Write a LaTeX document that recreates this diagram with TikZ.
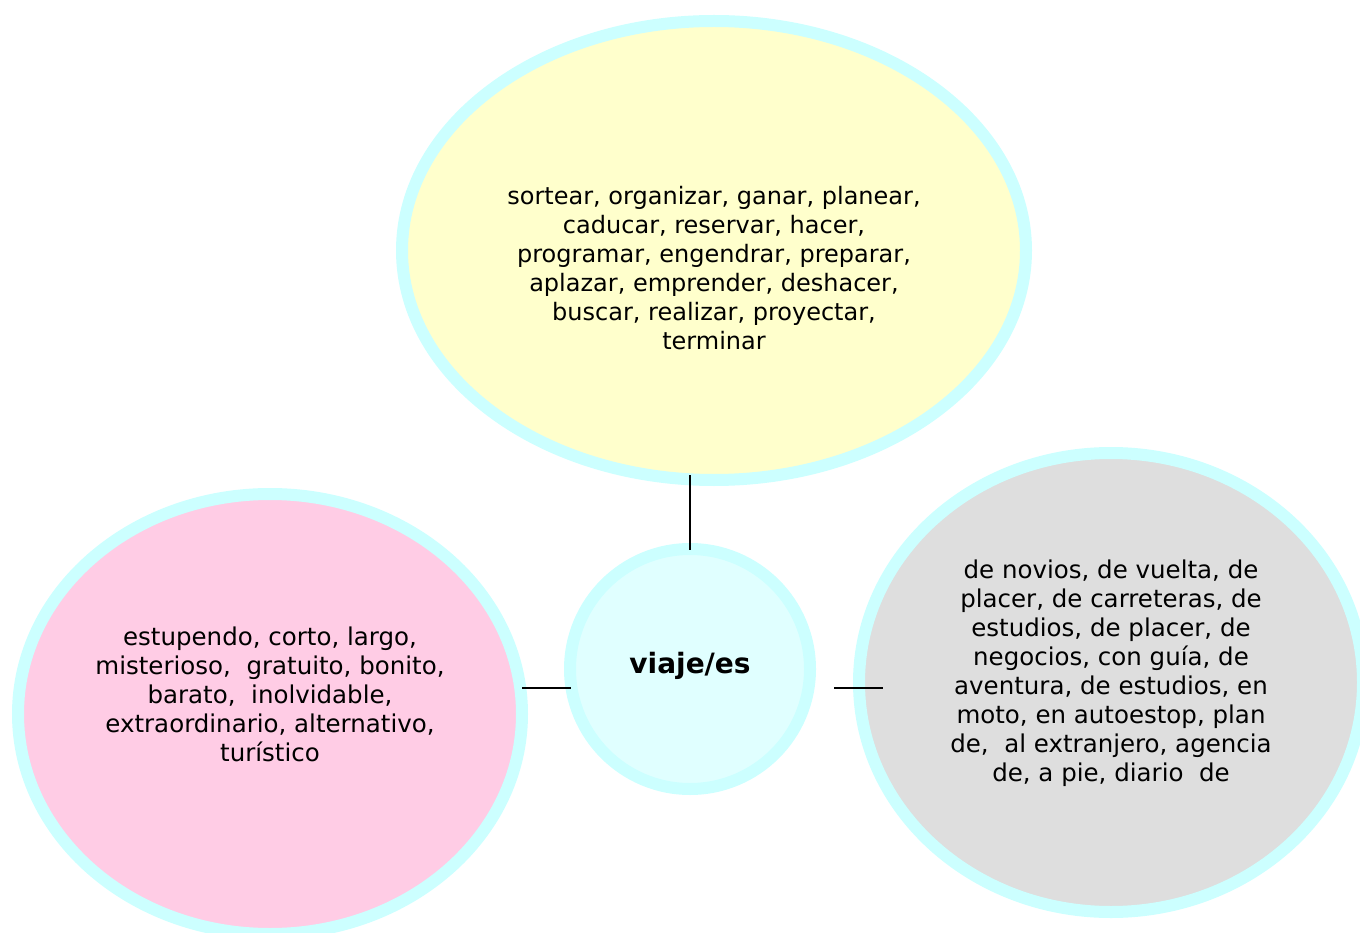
\documentclass[tikz,border=0pt]{standalone}
\usepackage{fontspec}
\setmainfont{DejaVu Sans}
\usetikzlibrary{shapes.geometric,calc}
\definecolor{ring}{HTML}{CCFFFF}
\definecolor{topfill}{HTML}{FFFFCC}
\definecolor{pinkfill}{HTML}{FFCCE5}
\definecolor{grayfill}{HTML}{DEDEDE}
\definecolor{hubfill}{HTML}{E0FFFF}
\begin{document}
\begin{tikzpicture}[x=1pt,y=-1pt,
  bubble/.style={ellipse, draw=ring, line width=12pt, inner sep=0pt, outer sep=0pt},
  words/.style={align=center, inner sep=0pt, anchor=north, text=black, font=\fontsize{24.5}{29}\selectfont},
  link/.style={line width=2pt, draw=black}]
\useasboundingbox (0,0) rectangle (1360,933);
\fill[white] (0,0) rectangle (1360,933);

\node[bubble, fill=topfill, minimum width=624pt, minimum height=459pt] (top) at (714,250.5) {};
\node[bubble, fill=pinkfill, minimum width=504pt, minimum height=440pt] (left) at (270,714) {};
\node[bubble, fill=grayfill, minimum width=504pt, minimum height=459pt] (right) at (1111,682.5) {};
\node[bubble, fill=hubfill, minimum width=240pt, minimum height=240pt] (hub) at (690,669) {};

\node[words, font=\fontsize{24}{29}\selectfont] (toptext) at (714,184) {\rule{0pt}{20pt}sortear, organizar, ganar, planear,\\
caducar, reservar, hacer,\\
programar, engendrar, preparar,\\
aplazar, emprender, deshacer,\\
buscar, realizar, proyectar,\\
terminar};

\node[words] (lefttext) at (270,625) {\rule{0pt}{20pt}estupendo, corto, largo,\\
misterioso,~ gratuito, bonito,\\
barato,~ inolvidable,\\
extraordinario, alternativo,\\
turístico};

\node[words] (righttext) at (1111,558) {\rule{0pt}{20pt}de novios, de vuelta, de\\
placer, de carreteras, de\\
estudios, de placer, de\\
negocios, con guía, de\\
aventura, de estudios, en\\
moto, en autoestop, plan\\
de,~ al extranjero, agencia\\
de, a pie, diario~ de};

\node[anchor=base, inner sep=0pt, font=\bfseries\fontsize{28}{34}\selectfont] (hubtext) at (690,673) {viaje/es};

\coordinate (lstart) at (522,688);
\coordinate (rstart) at (834,688);
\coordinate (rend) at (883,688);
\draw[link] ($(hub.north |- top.south)+(0,-5)$) -- ($(hub.north)+(0,1)$);
\draw[link] (lstart) -- (lstart -| hub.189);
\draw[link] (rstart) -- (rend);
\end{tikzpicture}
\end{document}
